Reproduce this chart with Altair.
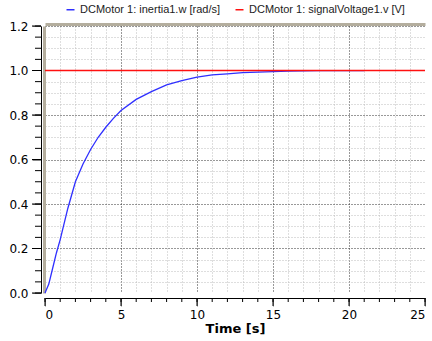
import altair as alt
import pandas as pd

# ---- data ----
blue_label = "DCMotor 1: inertia1.w [rad/s]"
red_label = "DCMotor 1: signalVoltage1.v [V]"

t_blue = [0, 0.25, 0.5, 0.75, 1, 1.5, 2, 2.5, 3, 3.5, 4, 4.5, 5, 6, 7, 8, 9, 10,
          11, 12, 13, 14, 15, 16, 18, 21]
w_blue = [0, 0.04, 0.11, 0.18, 0.24, 0.38, 0.50, 0.58, 0.645, 0.70, 0.745, 0.785,
          0.82, 0.87, 0.905, 0.935, 0.955, 0.97, 0.98, 0.985, 0.99, 0.993, 0.995,
          0.997, 0.999, 0.9995]
t_red = [0, 25]
v_red = [1.0, 1.0]

x_minor = [i for i in range(0, 26)]
x_major = [0, 5, 10, 15, 20, 25]
x_grid_major = [5, 10, 15, 20]
x_grid_minor = [i for i in range(1, 25) if i % 5 != 0]
y_minor = [round(i * 0.05, 2) for i in range(0, 25)]
y_major = [0.0, 0.2, 0.4, 0.6, 0.8, 1.0, 1.2]
y_grid_major = [0.2, 0.4, 0.6, 0.8, 1.0, 1.2]
y_grid_minor = [round(i * 0.05, 2) for i in range(1, 24) if i % 4 != 0]

df = pd.concat([
    pd.DataFrame({"t": t_blue, "v": w_blue, "series": blue_label, "order": 0}),
    pd.DataFrame({"t": t_red, "v": v_red, "series": red_label, "order": 1}),
])

W, H = 380, 267
FONT = "DejaVu Sans"
xs = alt.Scale(domain=[0, 25], nice=False, zero=False)
ys = alt.Scale(domain=[0, 1.2], nice=False, zero=False)

base = alt.Chart(df)


def ax(**kw):
    d = dict(domain=False, ticks=False, labels=False, grid=False, title=None)
    d.update(kw)
    return alt.Axis(**d)


grid_minor = base.mark_line(opacity=0).encode(
    x=alt.X("t:Q", scale=xs, axis=ax(orient="bottom", grid=True, values=x_grid_minor,
                                      gridColor="#bdbdbd", gridDash=[1, 2], gridWidth=1)),
    y=alt.Y("v:Q", scale=ys, axis=ax(orient="left", grid=True, values=y_grid_minor,
                                      gridColor="#bdbdbd", gridDash=[1, 2], gridWidth=1)),
)

grid_major = base.mark_line(opacity=0).encode(
    x=alt.X("t:Q", scale=xs, axis=ax(orient="bottom", grid=True, values=x_grid_major,
                                      gridColor="#333333", gridDash=[1, 2], gridWidth=1)),
    y=alt.Y("v:Q", scale=ys, axis=ax(orient="left", grid=True, values=y_grid_major,
                                      gridColor="#333333", gridDash=[1, 2], gridWidth=1)),
)

frame = base.mark_line(opacity=0).encode(
    x=alt.X("t:Q", scale=xs, axis=ax(orient="top", domain=True, domainColor="#b4ae9e",
                                      domainWidth=3, offset=2)),
    y=alt.Y("v:Q", scale=ys, axis=ax(orient="left", domain=True, domainColor="#b4ae9e",
                                      domainWidth=3, offset=1)),
)

# tick marks drawn from the tick value lists through the shared scales (not clipped)
xt_minor = alt.Chart(pd.DataFrame({"tx": x_minor})).mark_rule(
    color="black", strokeWidth=1, clip=False).encode(
    x=alt.X("tx:Q", scale=xs, axis=None), y=alt.value(H + 5), y2=alt.value(H + 9))
xt_major = alt.Chart(pd.DataFrame({"tx": x_major})).mark_rule(
    color="black", strokeWidth=1, clip=False).encode(
    x=alt.X("tx:Q", scale=xs, axis=None), y=alt.value(H + 5), y2=alt.value(H + 13))
yt_minor = alt.Chart(pd.DataFrame({"ty": y_minor})).mark_rule(
    color="black", strokeWidth=1, clip=False).encode(
    y=alt.Y("ty:Q", scale=ys, axis=None), x=alt.value(-4), x2=alt.value(-10))
yt_major = alt.Chart(pd.DataFrame({"ty": y_major})).mark_rule(
    color="black", strokeWidth=1, clip=False).encode(
    y=alt.Y("ty:Q", scale=ys, axis=None), x=alt.value(-4), x2=alt.value(-13))

lines = base.mark_line(strokeWidth=1.3).encode(
    x=alt.X("t:Q", scale=xs, axis=alt.Axis(
        orient="bottom", values=x_major, ticks=True, tickSize=8, grid=False, offset=5,
        domainColor="black", labelColor="black", titleColor="black",
        labelFont=FONT, labelFontSize=12, labelPadding=3, title="Time [s]",
        titleFont=FONT, titleFontSize=13, titleFontWeight="bold", titlePadding=2,
        format="d")),
    y=alt.Y("v:Q", scale=ys, axis=alt.Axis(
        orient="left", values=y_major, ticks=True, tickSize=9, grid=False, offset=4,
        domainColor="black", labelColor="black",
        labelFont=FONT, labelFontSize=12, labelPadding=4, format=".1f", title=None)),
    color=alt.Color("series:N",
                    scale=alt.Scale(domain=[blue_label, red_label],
                                    range=["#2f2fff", "#ff1010"]),
                    legend=alt.Legend(orient="none", legendX=20, legendY=-22,
                                      direction="horizontal", title=None,
                                      symbolType="stroke", symbolSize=64,
                                      symbolStrokeWidth=1.5, labelFont="Liberation Sans",
                                      labelFontSize=11, labelColor="#222222",
                                      columnPadding=12, labelOffset=4)),
    detail="series:N",
    order="order:Q",
)

chart = alt.layer(grid_minor, grid_major, frame, xt_minor, xt_major,
                  yt_minor, yt_major, lines).resolve_axis(
    x="independent", y="independent"
).properties(
    width=W, height=H,
    padding={"left": 8, "top": 4, "right": 0, "bottom": 2},
).configure_view(stroke=None)

chart.save("out.html", embed_options={"renderer": "svg", "actions": False})
